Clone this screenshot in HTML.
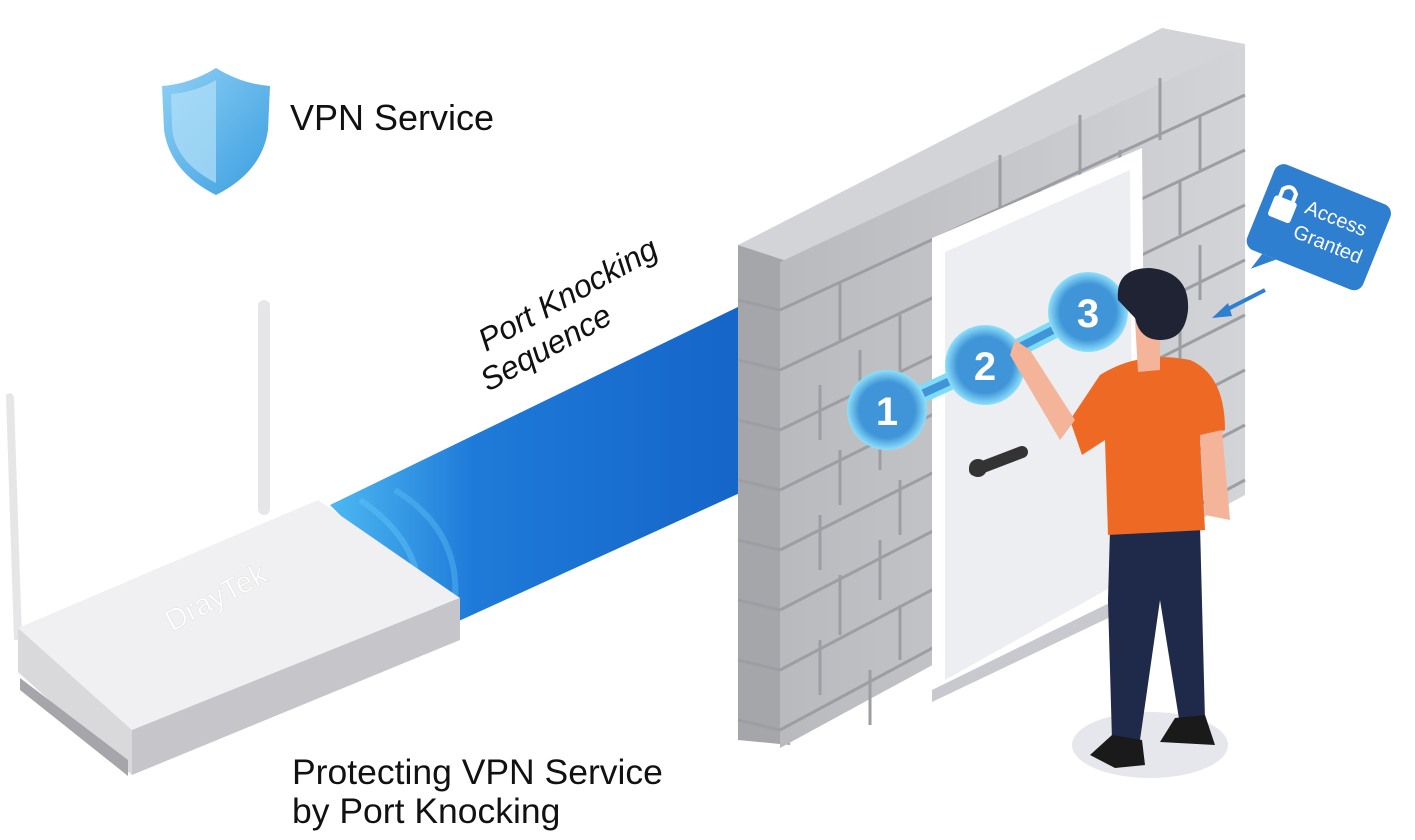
<!DOCTYPE html>
<html><head><meta charset="utf-8"><style>
html,body{margin:0;padding:0;background:#fff;}
svg{display:block;}
text{font-family:"Liberation Sans",sans-serif;}
</style></head><body>
<svg width="1415" height="840" viewBox="0 0 1415 840" xmlns="http://www.w3.org/2000/svg">
<defs>
<linearGradient id="beam" x1="0" y1="0" x2="1" y2="0">
<stop offset="0" stop-color="#4db8f2"/><stop offset="0.35" stop-color="#1e7ad8"/><stop offset="1" stop-color="#1565c8"/>
</linearGradient>
<linearGradient id="shield" x1="0" y1="0" x2="1" y2="1">
<stop offset="0" stop-color="#8fd0f5"/><stop offset="1" stop-color="#3a9ee0"/>
</linearGradient>
<linearGradient id="wallg" x1="0" y1="0" x2="1" y2="0">
<stop offset="0" stop-color="#b9babe"/><stop offset="1" stop-color="#d3d4d7"/>
</linearGradient>
<radialGradient id="circ" cx="0.5" cy="0.5" r="0.5">
<stop offset="0.7" stop-color="#3f95d8"/><stop offset="1" stop-color="#8fe0fb"/>
</radialGradient>
</defs>

<path d="M216 68 Q190 84 162 86 L164 130 Q170 172 216 195 Q262 172 268 130 L270 86 Q242 84 216 68Z" fill="url(#shield)"/>
<path d="M216 80 L216 183 Q175 162 172 128 L171 94 Q196 92 216 80Z" fill="#b3e0f8" opacity="0.7"/>
<text x="290" y="130" font-size="36" fill="#111">VPN Service</text>

<polygon points="330,505 742,305 742,492 450,625" fill="url(#beam)"/>
<path d="M360 500 Q420 540 420 600" stroke="#5ec0f5" stroke-width="6" fill="none" opacity="0.5"/>
<path d="M395 490 Q460 530 455 600" stroke="#5ec0f5" stroke-width="6" fill="none" opacity="0.4"/>

<text transform="translate(486,352) rotate(-29)" font-size="32" font-style="italic" fill="#111">Port Knocking</text>
<text transform="translate(488,392) rotate(-29)" font-size="32" font-style="italic" fill="#111">Sequence</text>

<polygon points="738,245 1162,28 1245,44 790,262" fill="#d3d4d7"/>
<polygon points="738,245 790,262 790,745 738,740" fill="#a5a6aa"/>
<polygon points="780,262 1245,44 1245,495 780,748" fill="url(#wallg)"/>
<g stroke="#9d9ea3" stroke-width="3" fill="none">
<path d="M780 310 L1245 95 M780 370 L1245 150 M780 430 L1245 205 M780 490 L1245 260 M780 550 L1245 315 M780 610 L1245 370 M780 670 L1245 425 M780 730 L1245 480"/>
<path d="M738 300 L780 310 M738 360 L780 370 M738 420 L780 430 M738 480 L780 490 M738 540 L780 550 M738 600 L780 610 M738 660 L780 670 M738 720 L780 730"/>
<path d="M840 282 L840 340 M900 315 L900 370 M860 350 L860 405 M820 385 L820 440 M880 415 L880 470 M840 450 L840 505 M900 480 L900 535 M820 515 L820 570 M880 540 L880 600 M840 575 L840 635 M900 605 L900 660 M820 640 L820 695 M870 670 L870 725"/>
<path d="M1000 155 L1000 215 M1080 115 L1080 175 M1160 78 L1160 140 M1040 190 L1040 240 M1120 150 L1120 210 M1200 115 L1200 170 M1180 180 L1180 235 M1200 245 L1200 300 M1180 310 L1180 360 M1200 370 L1200 420 M1180 430 L1180 485"/>
</g>

<polygon points="932,238 1142,148 1146,585 932,690" fill="#ffffff"/>
<polygon points="945,252 1130,170 1133,575 945,680" fill="#eceef2"/>
<polygon points="932,690 1146,585 1146,600 932,702" fill="#c8c9ce"/>
<path d="M975 470 L1022 452" stroke="#333" stroke-width="12" stroke-linecap="round"/>
<circle cx="978" cy="468" r="9" fill="#333"/>

<path d="M887 410 L985 365 L1088 312" stroke="#7fdcf8" stroke-width="18"/>
<path d="M887 410 L985 365 L1088 312" stroke="#3f95d8" stroke-width="8"/>
<g font-size="40" font-weight="bold" fill="#fff" text-anchor="middle">
<circle cx="887" cy="410" r="40" fill="url(#circ)"/><text x="887" y="425">1</text>
<circle cx="985" cy="365" r="40" fill="url(#circ)"/><text x="985" y="380">2</text>
<circle cx="1088" cy="312" r="40" fill="url(#circ)"/><text x="1088" y="327">3</text>
</g>

<ellipse cx="1150" cy="745" rx="78" ry="33" fill="#e6e7ec"/>
<path d="M1110 530 L1200 525 L1205 720 L1180 725 L1160 600 L1140 740 L1112 740 L1108 600Z" fill="#1f2a4a"/>
<path d="M1112 735 L1142 740 L1145 765 L1115 768 L1090 755Z" fill="#1a1a1a"/>
<path d="M1175 718 L1205 715 L1215 745 L1160 742Z" fill="#1a1a1a"/>
<path d="M1100 375 Q1140 350 1190 360 Q1225 375 1225 430 L1200 440 L1205 530 L1108 535 L1105 440 L1082 455 L1070 420Z" fill="#ee6a24"/>
<path d="M1075 420 L1030 350 L1015 340 L1010 355 L1060 440Z" fill="#f4b49a"/>
<path d="M1200 435 L1222 430 L1230 520 L1205 515Z" fill="#f4b49a"/>
<path d="M1135 320 L1160 330 L1160 370 L1138 372Z" fill="#f4b49a"/>
<path d="M1118 300 Q1115 268 1150 268 Q1190 272 1188 310 Q1185 340 1160 340 Q1140 340 1135 318Z" fill="#1f2333"/>

<g transform="rotate(22 1315 230)">
<rect x="1255" y="180" width="125" height="92" rx="10" fill="#2f7fd0"/>
<polygon points="1275,272 1290,272 1270,290" fill="#2f7fd0"/>
<rect x="1265" y="212" width="24" height="22" rx="3" fill="#fff"/>
<path d="M1270 212 L1270 204 Q1277 195 1284 204 L1284 212" stroke="#fff" stroke-width="4" fill="none"/>
<text x="1298" y="218" font-size="20" fill="#fff">Access</text>
<text x="1296" y="245" font-size="20" fill="#fff">Granted</text>
</g>
<path d="M1265 290 L1222 312" stroke="#2f7fd0" stroke-width="4"/>
<polygon points="1212,318 1228,303 1232,316" fill="#2f7fd0"/>

<path d="M6 395 Q12 390 14 398 L22 640 L14 640Z" fill="#e6e6e8"/>
<rect x="258" y="300" width="12" height="215" rx="6" fill="#e6e6e8"/>
<polygon points="18,628 318,500 460,598 132,730" fill="#f0f0f2"/>
<polygon points="18,628 132,730 132,775 18,672" fill="#d9d9dc"/>
<polygon points="132,730 460,598 460,640 132,775" fill="#c6c6ca"/>
<polygon points="20,678 128,760 128,776 20,690" fill="#a6a6aa"/>
<text transform="translate(172,632) rotate(-28)" font-size="30" fill="#fff" stroke="#ddd" stroke-width="0.5">DrayTek</text>

<text x="292" y="784" font-size="35.5" fill="#111">Protecting VPN Service</text>
<text x="292" y="823" font-size="35.5" fill="#111">by Port Knocking</text>
</svg>
</body></html>
